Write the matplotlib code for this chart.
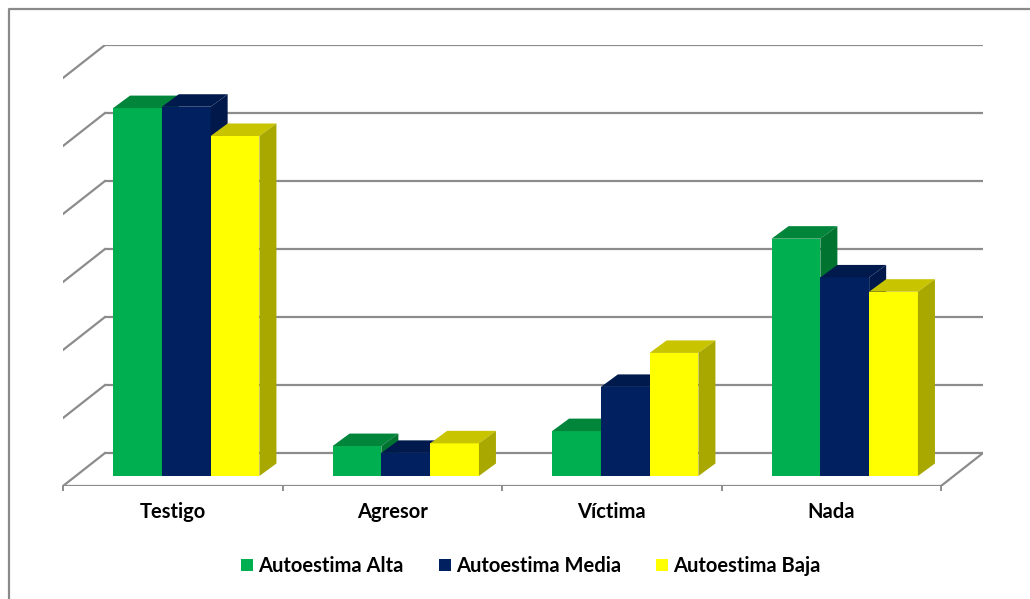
import matplotlib.pyplot as plt
from matplotlib.patches import Polygon
from matplotlib.lines import Line2D

plt.rcParams['font.family'] = ['Lato', 'DejaVu Sans']

# Porcentajes por categoría y nivel de autoestima
categorias = ["Testigo", "Agresor", "Víctima", "Nada"]
series = ["Autoestima Alta", "Autoestima Media", "Autoestima Baja"]
alta = [54.1, 4.4, 6.6, 34.9]
media = [54.3, 3.4, 13.1, 29.2]
baja = [50.0, 4.8, 18.1, 27.1]
valores = [alta, media, baja]
lineas_guia = [0, 10, 20, 30, 40, 50, 60]

# colores: frente, tapa, lateral
colores = [
    ("#00B050", "#00853A", "#007331"),
    ("#002060", "#001A4E", "#00194A"),
    ("#FFFF00", "#C8C400", "#A8A800"),
]
gris = "#8C8C8C"

# perspectiva oblicua (en unidades de datos)
PX, PY = 0.1913, 4.85       # fondo del piso
OX, OY = 0.0615, 1.47       # desplazamiento de las barras
BX, BY = 0.0775, 1.84       # profundidad de cada barra
ancho = 1 / 4.5             # gap width 150%

fig = plt.figure(figsize=(10.30, 5.99), dpi=100)
ax = fig.add_axes([63 / 1030, 113 / 599, 920 / 1030, 441 / 599])
ax.set_xlim(0, 4 + PX)
ax.set_ylim(0, 60 + PY)
ax.axis("off")

n = len(categorias)
# pared del fondo y pared izquierda
for g in lineas_guia:
    ax.plot([PX, n + PX], [g + PY, g + PY], color=gris, lw=1.6, zorder=1,
            solid_capstyle="butt")
    ax.plot([0, PX], [g, g + PY], color=gris, lw=1.6, zorder=1)
# bordes del piso y marcas
ax.plot([0, n, n + PX], [0, 0, PY], color=gris, lw=1.6, zorder=1)
for i in range(n + 1):
    ax.plot([i, i], [0, -0.6], color=gris, lw=1.4, clip_on=False, zorder=1)

z = 2
for i in range(n):
    x0 = i + 0.5 - 1.5 * ancho + OX
    for s in range(len(series)):
        v = valores[s][i]
        frente, tapa, lado = colores[s]
        x = x0 + s * ancho
        ax.bar(x, v, width=ancho, bottom=OY, align="edge", color=frente,
               linewidth=0, zorder=z)
        ax.add_patch(Polygon([(x, OY + v), (x + ancho, OY + v),
                              (x + ancho + BX, OY + v + BY), (x + BX, OY + v + BY)],
                             closed=True, facecolor=tapa, lw=0, zorder=z))
        ax.add_patch(Polygon([(x + ancho, OY), (x + ancho + BX, OY + BY),
                              (x + ancho + BX, OY + v + BY), (x + ancho, OY + v)],
                             closed=True, facecolor=lado, lw=0, zorder=z))
        z += 1
    ax.text(i + 0.5, -3.75, categorias[i], ha="center", va="center",
            fontsize=14.5, fontweight="bold", color="black")

handles = [Line2D([], [], marker="s", linestyle="none", markersize=8,
                  markerfacecolor=c[0], markeredgewidth=0) for c in colores]
fig.legend(handles, series, loc="center", bbox_to_anchor=(531 / 1030, 1 - 566 / 599),
           ncol=3, frameon=False, handlelength=0.55, handletextpad=0.28,
           columnspacing=1.75, prop={"weight": "bold", "size": 14.5})

# marco exterior
fig.add_artist(Line2D([8.5 / 1030, 8.5 / 1030, 1], [0, 1 - 8.5 / 599, 1 - 8.5 / 599],
                      color="#8A8A8A", lw=1.6))

fig.savefig("out.png", dpi=100)
